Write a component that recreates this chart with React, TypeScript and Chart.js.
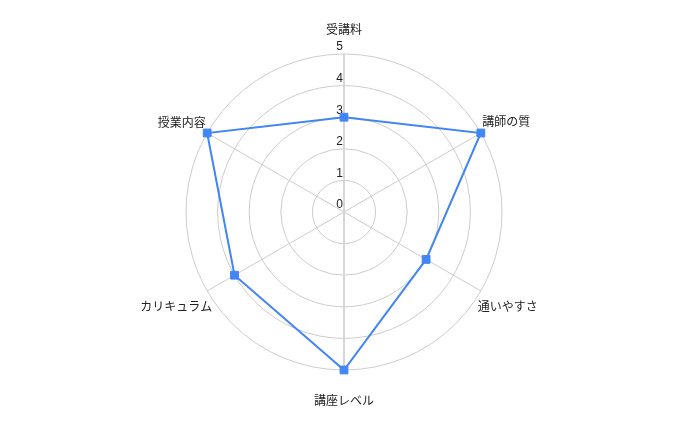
import { useEffect, useRef } from 'react';
import { Chart, registerables } from 'chart.js';

Chart.register(...registerables);

const categories = ['受講料', '講師の質', '通いやすさ', '講座レベル', 'カリキュラム', '授業内容'];
const scores = [3, 5, 3, 5, 4, 5];
const tickValues = [0, 1, 2, 3, 4, 5];

const FONT = '12px Arial, "Liberation Sans", "Noto Sans CJK JP", sans-serif';

// label offsets from the outer ring position, per category: [dx, dy, align]
const labelOffsets: [number, number, CanvasTextAlign][] = [
  [0, -23.5, 'center'],
  [1.5, -10.5, 'left'],
  [-3, 16.5, 'left'],
  [0, 31.5, 'center'],
  [5, 16.5, 'right'],
  [-1.5, -9.5, 'right'],
];

const labelsPlugin = {
  id: 'radarLabels',
  beforeDatasetsDraw(chart: any) {
    const scale = chart.scales.r;
    const ctx = chart.ctx as CanvasRenderingContext2D;
    ctx.save();
    ctx.font = FONT;
    ctx.fillStyle = '#222222';

    // tick labels: right aligned just left of the vertical axis, above each ring
    ctx.textAlign = 'right';
    ctx.textBaseline = 'bottom';
    tickValues.forEach(v => {
      const d = scale.getDistanceFromCenterForValue(v);
      ctx.fillText(String(v), scale.xCenter - 1, scale.yCenter - d - 1);
    });

    // category labels
    ctx.textBaseline = 'middle';
    categories.forEach((text, i) => {
      const p = scale.getPointPosition(i, scale.drawingArea);
      const [dx, dy, align] = labelOffsets[i];
      ctx.textAlign = align;
      ctx.fillText(text, p.x + dx, p.y + dy);
    });
    ctx.restore();
  },
};

export default function App() {
  const chartRef = useRef<HTMLCanvasElement>(null);
  const chartInstance = useRef<Chart | null>(null);

  useEffect(() => {
    if (!chartRef.current) return;
    const ctx = chartRef.current.getContext('2d');
    if (!ctx) return;

    chartInstance.current = new Chart(ctx, {
      type: 'radar',
      data: {
        labels: categories,
        datasets: [
          {
            data: scores,
            borderColor: '#4285f4',
            backgroundColor: 'rgba(0,0,0,0)',
            borderWidth: 2,
            fill: false,
            pointStyle: 'rect',
            pointRadius: 5.5,
            pointBorderWidth: 1,
            pointBackgroundColor: '#4285f4',
            pointBorderColor: '#4285f4',
          },
        ],
      },
      options: {
        animation: false,
        responsive: true,
        maintainAspectRatio: false,
        layout: { padding: { top: 54, bottom: 54 } },
        plugins: {
          legend: { display: false },
          tooltip: { enabled: false },
        },
        scales: {
          r: {
            min: 0,
            max: 5,
            ticks: { stepSize: 1, display: false },
            pointLabels: { display: false },
            grid: { circular: true, color: '#cccccc', lineWidth: 1 },
            angleLines: {
              color: (c: any) => (c.index % 3 === 0 ? '#d6d6d6' : '#cccccc'),
              lineWidth: (c: any) => (c.index % 3 === 0 ? 2 : 1),
            },
          },
        },
      },
      plugins: [labelsPlugin],
    });

    return () => {
      if (chartInstance.current) {
        chartInstance.current.destroy();
        chartInstance.current = null;
      }
    };
  }, []);

  return (
    <div style={{ position: 'absolute', left: 0, top: 0, width: 688, height: 425, background: '#ffffff' }}>
      <canvas ref={chartRef} />
    </div>
  );
}
